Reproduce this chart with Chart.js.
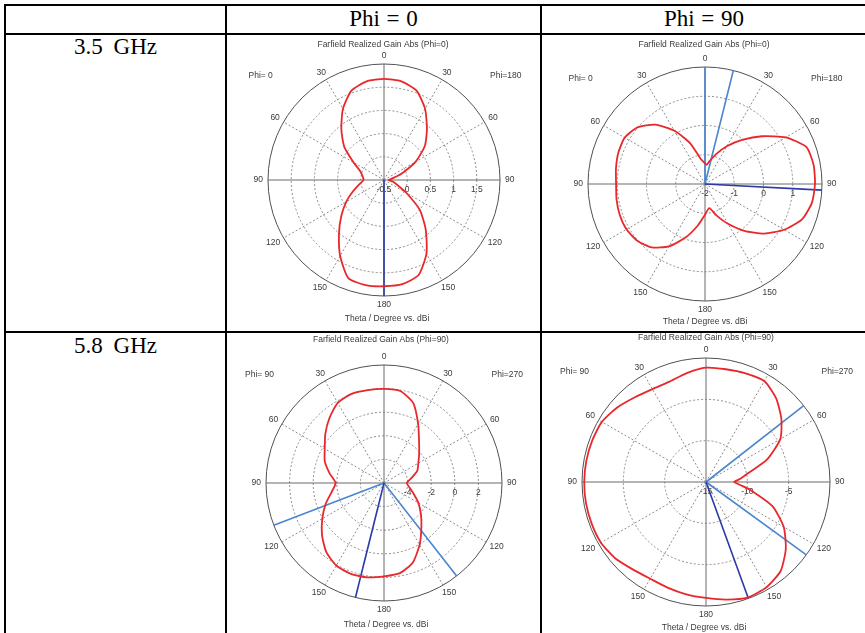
<!DOCTYPE html>
<html>
<head>
<meta charset="utf-8">
<script src="https://cdn.jsdelivr.net/npm/chart.js@4.4.1/dist/chart.umd.min.js"></script>
<style>
  html, body { margin: 0; padding: 0; background: #fff; }
  #sheet { position: relative; width: 865px; height: 633px; overflow: hidden; background: #fff; }
  .rule { position: absolute; background: #000; }
  .cellText {
    position: absolute; font-family: "Liberation Serif", "Times New Roman", serif;
    font-size: 23px; line-height: 26px; color: #000; white-space: nowrap;
    text-align: center;
  }
  .rowHead { word-spacing: 5px; }
  .colHead { word-spacing: 1px; }
  canvas { position: absolute; }
</style>
</head>
<body>
<div id="sheet">
  <div class="rule" style="left:4px;top:4px;width:862px;height:2px"></div>
  <div class="rule" style="left:4px;top:33px;width:862px;height:2px"></div>
  <div class="rule" style="left:4px;top:331px;width:862px;height:2px"></div>
  <div class="rule" style="left:4px;top:4px;width:2px;height:629px"></div>
  <div class="rule" style="left:225px;top:4px;width:2px;height:629px"></div>
  <div class="rule" style="left:540px;top:4px;width:2px;height:629px"></div>

  <div class="cellText colHead" style="left:227px;width:313px;top:6px">Phi = 0</div>
  <div class="cellText colHead" style="left:542px;width:324px;top:6px">Phi = 90</div>
  <div class="cellText rowHead" style="left:6px;width:219px;top:34px">3.5 GHz</div>
  <div class="cellText rowHead" style="left:6px;width:219px;top:333px">5.8 GHz</div>

  <canvas id="p35a" width="300" height="300" style="left:234px;top:30px"></canvas>
  <canvas id="p35b" width="300" height="300" style="left:555px;top:34px"></canvas>
  <canvas id="p58a" width="300" height="300" style="left:234px;top:333px"></canvas>
  <canvas id="p58b" width="300" height="300" style="left:556px;top:332px"></canvas>
</div>

<script>
// One category per degree of polar angle, clockwise from the top (theta = 0).
const DEGREES = Array.from({ length: 360 }, (_, i) => i);

// ---- 3.5 GHz, Phi = 0 / 180 cut (dBi) ----
const angles35a = [0,10,20,30,40,50,60,70,80,90,100,110,120,130,140,150,160,170,
                   180,190,200,210,220,230,240,250,260,270,280,290,300,310,320,330,340,350];
const gain35a   = [1.68,1.66,1.55,1.27,0.94,0.65,0.29,-0.10,-0.33,-0.40,-0.31,-0.20,0.06,0.51,0.90,1.33,1.68,1.78,
                   1.79,1.80,1.75,1.39,1.01,0.70,0.44,0.21,0.04,-0.06,-0.03,0.04,0.26,0.62,0.93,1.27,1.55,1.66];
const mainLobe35a = [180];
const beamEdges35a = [];
const ticks35a = [-0.5, 0, 0.5, 1, 1.5];

// ---- 3.5 GHz, second cut (dBi) ----
const angles35b = [0,5,10,20,30,40,50,60,70,80,90,100,110,120,130,140,150,160,170,
                   180,190,200,210,220,230,240,250,260,270,280,290,300,310,320,330,340,350,355];
const gain35b   = [-1.29,-1.34,-1.23,-0.92,-0.51,-0.03,0.54,1.19,1.69,1.77,1.76,1.71,1.53,1.13,0.64,0.09,-0.43,-0.86,-1.16,
                   -0.95,-0.55,-0.05,0.46,0.83,1.02,1.10,1.10,1.07,1.04,1.09,1.15,1.17,1.01,0.65,0.11,-0.52,-1.12,-1.22];
const mainLobe35b = [93];
const beamEdges35b = [0, 14];
const ticks35b = [-2, -1, 0, 1];

// ---- 5.8 GHz, Phi = 90 / 270 cut (dBi) ----
const angles58a = [0,10,20,30,40,50,60,70,80,90,100,110,120,130,140,150,160,170,
                   180,190,200,210,220,230,240,250,260,270,280,290,300,310,320,330,340,350];
const gain58a   = [1.98,1.92,1.23,-0.21,-1.38,-2.11,-2.64,-3.00,-3.65,-4.07,-3.81,-3.33,-2.64,-1.92,-1.07,0.04,1.16,1.76,
                   1.91,2.12,2.20,2.08,1.62,0.86,0.04,-0.73,-1.48,-1.90,-1.32,-0.66,-0.20,0.49,1.19,1.84,2.04,1.99];
const mainLobe58a = [194];
const beamEdges58a = [142, 249];
const ticks58a = [-4, -2, 0, 2];

// ---- 5.8 GHz, second cut (dBi) ----
const angles58b = [0,10,20,30,40,50,60,70,80,85,90,95,100,110,120,130,140,150,160,170,
                   180,190,200,210,220,230,240,250,260,270,280,290,300,310,320,330,340,350];
const gain58b   = [-1.17,-1.15,-1.01,-0.90,-1.80,-3.10,-4.62,-7.20,-10.15,-10.90,-11.60,-10.85,-9.60,-6.45,-4.15,-2.40,-0.95,-0.32,-0.15,-0.55,
                   -0.97,-1.20,-1.40,-1.49,-1.20,-0.65,-0.33,-0.28,-0.26,-0.27,-0.30,-0.35,-0.45,-0.98,-1.62,-2.02,-2.08,-1.62];
const mainLobe58b = [160];
const beamEdges58b = [52, 126];
const ticks58b = [-15, -10, -5];

const TEXT_FONT = '8.5px "Liberation Sans", Arial, sans-serif';
const TEXT_COLOR = '#3a3a3a';
const CURVE_COLOR = '#e8282c';
const MAIN_LOBE_COLOR = '#2a3aa8';
const BEAM_EDGE_COLOR = '#4a86d0';

// Places one value per listed angle on the 1-degree category axis.
function toSlots(angles, values) {
  const slots = new Array(DEGREES.length).fill(null);
  angles.forEach((a, i) => { slots[a] = values[i]; });
  return slots;
}

// A radial marker from the outer ring back to the centre at each listed angle.
function toRays(angles, min, max) {
  const slots = new Array(DEGREES.length).fill(null);
  angles.forEach(a => { slots[a] = max; slots[(a + 1) % DEGREES.length] = min; });
  return slots;
}

// Text around each polar plot: headline, cut labels, angle and gain labels, axis caption.
const polarText = {
  id: 'polarText',
  beforeDatasetsDraw(chart, args, o) {
    const s = chart.scales.r;
    const ctx = chart.ctx;
    const cx = s.xCenter, cy = s.yCenter, R = s.drawingArea;
    ctx.save();
    ctx.font = TEXT_FONT;
    ctx.fillStyle = TEXT_COLOR;
    ctx.textBaseline = 'middle';
    ctx.textAlign = 'center';
    for (let a = 0; a < 360; a += 30) {
      const txt = String(a <= 180 ? a : 360 - a);
      const w = ctx.measureText(txt).width;
      const p = s.getPointPosition(a, R + 5);
      const rad = a * Math.PI / 180;
      ctx.fillText(txt, p.x + Math.sin(rad) * w / 2, p.y - Math.cos(rad) * 3.5);
    }
    o.ticks.forEach(v => {
      ctx.fillText(String(v), cx + s.getDistanceFromCenterForValue(v), cy + 10);
    });
    ctx.fillText(o.title, cx + o.titleDx, cy + o.titleDy);
    ctx.fillText('Theta / Degree vs. dBi', cx + o.captionDx, cy + o.captionDy);
    ctx.textAlign = 'left';
    ctx.fillText(o.leftCut, cx + o.cornerLeftDx, cy + o.cornerDy);
    ctx.textAlign = 'right';
    ctx.fillText(o.rightCut, cx + o.cornerRightDx, cy + o.cornerDy);
    ctx.restore();
  }
};

function polarPlot(id, cfg) {
  const R = cfg.radius;
  const pad = 150 - R;
  const datasets = [{
    data: toSlots(cfg.angles, cfg.gain),
    borderColor: CURVE_COLOR, borderWidth: 1.8, pointRadius: 0,
    fill: false, spanGaps: true, tension: 0.2
  }, {
    data: toRays(cfg.mainLobe, cfg.min, cfg.max),
    borderColor: MAIN_LOBE_COLOR, borderWidth: 1.6, pointRadius: 0, fill: false, spanGaps: false
  }, {
    data: toRays(cfg.beamEdges, cfg.min, cfg.max),
    borderColor: BEAM_EDGE_COLOR, borderWidth: 1.6, pointRadius: 0, fill: false, spanGaps: false
  }];
  return new Chart(document.getElementById(id), {
    type: 'radar',
    data: { labels: DEGREES, datasets },
    plugins: [polarText],
    options: {
      responsive: false,
      animation: false,
      devicePixelRatio: 1,
      layout: { padding: pad },
      plugins: {
        legend: { display: false },
        tooltip: { enabled: false },
        polarText: cfg.text
      },
      scales: {
        r: {
          min: cfg.min, max: cfg.max,
          startAngle: 0,
          ticks: { stepSize: cfg.step, display: false },
          pointLabels: { display: false },
          grid: {
            circular: true,
            lineWidth: 1,
            color: c => (c.tick && c.tick.value >= cfg.max ? '#505050' : '#8c8c8c')
          },
          border: {
            dash: c => (c.tick && c.tick.value >= cfg.max ? [] : [2, 2])
          },
          angleLines: {
            display: true,
            color: c => (c.index % 90 === 0 ? '#6a6a6a' : '#8c8c8c'),
            lineWidth: c => (c.index % 30 === 0 ? 1 : 0),
            borderDash: c => (c.index % 90 === 0 ? [] : [2, 2])
          }
        }
      }
    }
  });
}

polarPlot('p35a', {
  angles: angles35a, gain: gain35a, mainLobe: mainLobe35a, beamEdges: beamEdges35a,
  min: -0.5, max: 2, step: 0.5, radius: 116,
  text: { ticks: ticks35a, title: 'Farfield Realized Gain Abs (Phi=0)', leftCut: 'Phi= 0', rightCut: 'Phi=180',
          titleDx: -1, titleDy: -135, captionDx: 3, captionDy: 138.7,
          cornerDy: -104, cornerLeftDx: -135.5, cornerRightDx: 137.5 }
});

polarPlot('p35b', {
  angles: angles35b, gain: gain35b, mainLobe: mainLobe35b, beamEdges: beamEdges35b,
  min: -2, max: 2, step: 1, radius: 117,
  text: { ticks: ticks35b, title: 'Farfield Realized Gain Abs (Phi=0)', leftCut: 'Phi= 0', rightCut: 'Phi=180',
          titleDx: -1, titleDy: -139.7, captionDx: 0, captionDy: 138,
          cornerDy: -105.3, cornerLeftDx: -136.5, cornerRightDx: 137.5 }
});

polarPlot('p58a', {
  angles: angles58a, gain: gain58a, mainLobe: mainLobe58a, beamEdges: beamEdges58a,
  min: -6, max: 4, step: 2, radius: 118,
  text: { ticks: ticks58a, title: 'Farfield Realized Gain Abs (Phi=90)', leftCut: 'Phi= 90', rightCut: 'Phi=270',
          titleDx: -3, titleDy: -143, captionDx: 2, captionDy: 141.7,
          cornerDy: -108.3, cornerLeftDx: -139, cornerRightDx: 139 }
});

polarPlot('p58b', {
  angles: angles58b, gain: gain58b, mainLobe: mainLobe58b, beamEdges: beamEdges58b,
  min: -15, max: 0, step: 5, radius: 124,
  text: { ticks: ticks58b, title: 'Farfield Realized Gain Abs (Phi=90)', leftCut: 'Phi= 90', rightCut: 'Phi=270',
          titleDx: 0, titleDy: -144.7, captionDx: -2, captionDy: 145.7,
          cornerDy: -110, cornerLeftDx: -146, cornerRightDx: 147 }
});
</script>
</body>
</html>
